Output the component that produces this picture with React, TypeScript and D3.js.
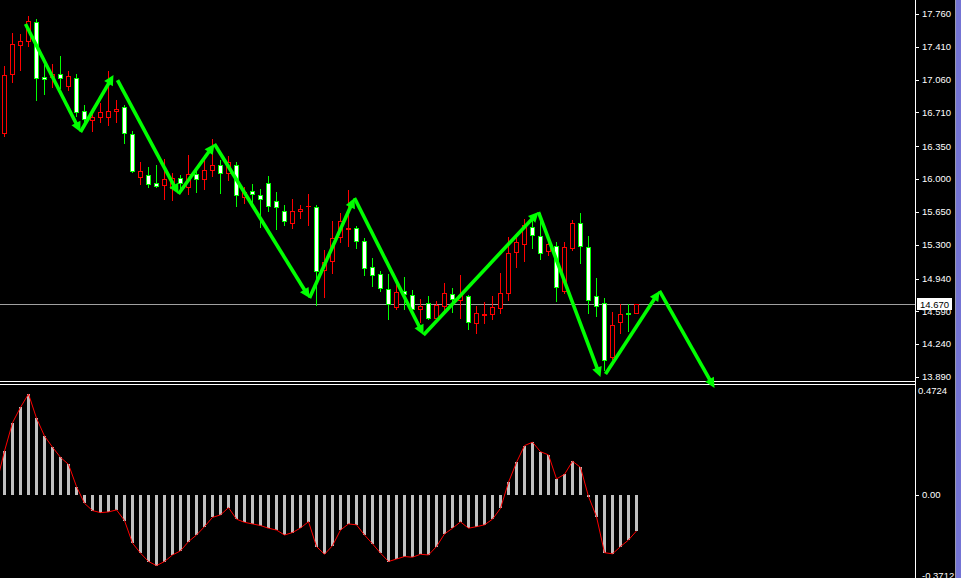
import React from 'react';
import * as d3 from 'd3';

const W = 961;
const H = 578;

// Candles (bar index 0..79)
const opens = [16.495, 17.117, 17.426, 17.475, 17.672, 17.085, 17.085, 17.117, 16.989, 17.074,
  16.723, 16.627, 16.659, 16.665, 16.723, 16.765, 16.477, 16.019, 16.040, 15.958,
  15.932, 15.905, 16.008, 15.912, 16.051, 15.998, 16.092, 16.147, 16.070, 16.147,
  15.814, 15.870, 15.827, 15.955, 15.763, 15.665, 15.537, 15.657, 15.710, 15.699,
  15.036, 15.130, 15.386, 15.465, 15.475, 15.338, 15.068, 14.983, 14.825, 14.640,
  14.802, 14.759, 14.615, 14.682, 14.522, 14.647, 14.772, 14.711, 14.754, 14.463,
  14.548, 14.558, 14.622, 14.782, 15.226, 15.305, 15.492, 15.393, 15.236, 15.290,
  14.810, 15.262, 15.529, 15.273, 14.750, 14.676, 14.106, 14.480, 14.569, 14.576];
const highs = [17.206, 17.554, 17.547, 17.739, 17.703, 17.270, 17.227, 17.312, 17.152, 17.120,
  16.790, 16.755, 16.808, 17.152, 16.843, 16.787, 16.509, 16.182, 16.126, 16.150,
  16.211, 16.065, 16.044, 16.257, 16.108, 16.257, 16.424, 16.203, 16.241, 16.185,
  15.919, 15.944, 15.891, 16.033, 15.862, 15.721, 15.784, 15.721, 15.841, 15.724,
  15.244, 15.553, 15.635, 15.884, 15.500, 15.369, 15.157, 15.025, 14.985, 14.914,
  14.956, 14.818, 14.722, 14.754, 14.700, 14.889, 14.842, 14.977, 14.764, 14.647,
  14.693, 14.754, 14.996, 15.379, 15.379, 15.574, 15.582, 15.635, 15.351, 15.326,
  15.326, 15.564, 15.635, 15.393, 14.942, 14.729, 14.586, 14.665, 14.665, 14.672];
const lows = [16.459, 17.038, 17.163, 17.422, 16.843, 16.907, 16.979, 16.968, 16.950, 16.673,
  16.577, 16.516, 16.612, 16.577, 16.612, 16.382, 16.079, 15.944, 15.912, 15.919,
  15.788, 15.777, 15.905, 15.836, 15.866, 15.894, 16.033, 15.855, 15.985, 15.716,
  15.745, 15.759, 15.492, 15.663, 15.463, 15.511, 15.482, 15.588, 15.511, 14.658,
  14.746, 15.002, 15.329, 15.287, 15.262, 14.977, 14.860, 14.807, 14.512, 14.613,
  14.615, 14.594, 14.476, 14.505, 14.503, 14.594, 14.586, 14.522, 14.402, 14.362,
  14.469, 14.508, 14.576, 14.711, 15.066, 15.127, 15.269, 15.148, 15.191, 14.700,
  14.786, 15.244, 15.109, 14.569, 14.540, 13.965, 14.079, 14.356, 14.380, 14.576];
const closes = [17.106, 17.437, 17.469, 17.682, 17.074, 17.064, 17.120, 17.074, 17.096, 16.712,
  16.644, 16.659, 16.712, 16.723, 16.747, 16.488, 16.089, 16.083, 15.944, 15.923,
  15.998, 16.012, 15.955, 16.051, 15.998, 16.094, 16.147, 16.070, 16.182, 15.827,
  15.866, 15.838, 15.785, 15.710, 15.699, 15.550, 15.657, 15.678, 15.718, 15.025,
  15.121, 15.377, 15.548, 15.475, 15.340, 15.057, 14.977, 14.836, 14.666, 14.793,
  14.775, 14.618, 14.647, 14.516, 14.658, 14.782, 14.718, 14.764, 14.473, 14.569,
  14.558, 14.633, 14.782, 15.209, 15.326, 15.511, 15.401, 15.209, 15.305, 14.846,
  15.273, 15.529, 15.283, 14.711, 14.647, 14.068, 14.441, 14.558, 14.558, 14.670];

const priceTicks = [17.76, 17.41, 17.06, 16.71, 16.35, 16.0, 15.65, 15.3, 14.94, 14.59, 14.24, 13.89];
const currentPrice = 14.67;

// ZigZag segments (bar index, price)
const zzFromIdx = [2.69, 9.56, 14.19, 21.81, 26.31, 38.19, 43.81, 52.44, 66.81, 75.19, 81.94];
const zzFromPrice = [17.653, 16.502, 17.056, 15.841, 16.374, 14.732, 15.798, 14.338, 15.649, 13.922, 14.807];
const zzToIdx = [9.56, 13.69, 21.81, 26.31, 38.19, 43.81, 52.44, 66.81, 74.56, 81.94, 88.81];
const zzToPrice = [16.502, 17.110, 15.841, 16.374, 14.732, 15.798, 14.338, 15.649, 13.890, 14.807, 13.773];

// Oscillator (bar index -1..79)
const oscStartIndex = -1;
const oscValues = [0.051,
  0.194, 0.319, 0.387, 0.446, 0.339, 0.260, 0.211, 0.166, 0.135, 0.037,
  -0.037, -0.069, -0.078, -0.075, -0.066, -0.113, -0.213, -0.257, -0.294, -0.312,
  -0.294, -0.265, -0.247, -0.206, -0.177, -0.140, -0.099, -0.088, -0.056, -0.107,
  -0.121, -0.128, -0.135, -0.147, -0.155, -0.177, -0.166, -0.146, -0.118, -0.228,
  -0.262, -0.224, -0.155, -0.128, -0.132, -0.177, -0.216, -0.257, -0.294, -0.283,
  -0.272, -0.275, -0.262, -0.265, -0.228, -0.172, -0.147, -0.119, -0.147, -0.140,
  -0.132, -0.107, -0.059, 0.056, 0.144, 0.218, 0.233, 0.191, 0.177, 0.071,
  0.091, 0.149, 0.122, -0.007, -0.096, -0.255, -0.260, -0.228, -0.199, -0.159];
const oscTicks = [0.4724, 0, -0.3712];
const oscTickLabels = ['0.4724', '0.00', '-0.3712'];

const FONT = '"Liberation Sans", Arial, sans-serif';

export default function App() {
  const x = d3.scaleLinear().domain([0, 79]).range([4, 636]);
  const y = d3.scaleLinear().domain([13.89, 17.76]).range([377, 14]);
  const yo = d3.scaleLinear().domain([-0.3712, 0.4724]).range([579, 388]);
  const axisX = 915;

  const candles = opens.map((o, i) => {
    const c = closes[i];
    const cx = Math.round(x(i));
    const bull = c >= o;
    const stroke = bull ? '#ff0000' : '#00ff00';
    const fill = bull ? '#000000' : '#ffffff';
    const yt = Math.round(y(Math.max(o, c)));
    const yb = Math.round(y(Math.min(o, c)));
    const yh = Math.round(y(highs[i]));
    const yl = Math.round(y(lows[i]));
    return (
      <g key={i}>
        <line x1={cx + 0.5} x2={cx + 0.5} y1={yh} y2={yl + 1} stroke={stroke} strokeWidth={1} />
        {yb - yt >= 1 ? (
          <rect x={cx - 2 + 0.5} y={yt + 0.5} width={4} height={yb - yt} fill={fill} stroke={stroke} strokeWidth={1} />
        ) : (
          <line x1={cx - 2} x2={cx + 3} y1={yt + 0.5} y2={yt + 0.5} stroke={stroke} strokeWidth={1} />
        )}
      </g>
    );
  });

  const zero = yo(0);
  const bars = oscValues.map((v, k) => {
    const i = k + oscStartIndex;
    const cx = Math.round(x(i));
    const yv = yo(v);
    const top = Math.min(yv, zero);
    const h = Math.abs(yv - zero);
    return <rect key={k} x={cx - 1} y={top} width={3} height={h} fill="#c0c0c0" />;
  });

  const oscLine = d3.line<number>()
    .x((_, k) => x(k + oscStartIndex) + 0.5)
    .y((v) => yo(v))(oscValues) || '';

  const zz = zzFromIdx.map((fi, k) => {
    const x1 = x(fi), y1 = y(zzFromPrice[k]);
    const x2 = x(zzToIdx[k]), y2 = y(zzToPrice[k]);
    const dx = x2 - x1, dy = y2 - y1;
    const len = Math.hypot(dx, dy);
    const ux = dx / len, uy = dy / len;
    const L = 10, hw = 5;
    const bx = x2 - ux * L, by = y2 - uy * L;
    const nx = -uy, ny = ux;
    const pts = [[x2, y2], [bx + nx * hw, by + ny * hw], [bx - nx * hw, by - ny * hw]]
      .map((p) => p.join(',')).join(' ');
    return (
      <g key={k}>
        <line x1={x1} y1={y1} x2={x2 - ux * 5} y2={y2 - uy * 5} stroke="#00ff00" strokeWidth={3.6} />
        <polygon points={pts} fill="#00ff00" />
      </g>
    );
  });

  const cpY = Math.round(y(currentPrice)) + 0.5;

  return (
    <svg width={W} height={H} style={{ position: 'absolute', left: 0, top: 0, display: 'block' }}>
      <rect x={0} y={0} width={W} height={H} fill="#000000" />
      {/* current price line */}
      <line x1={0} x2={axisX} y1={cpY} y2={cpY} stroke="#a0a0a0" strokeWidth={1} />
      <g shapeRendering="crispEdges">{candles}</g>
      {/* panel separator */}
      <line x1={0} x2={axisX + 1} y1={381.5} y2={381.5} stroke="#ffffff" strokeWidth={1} shapeRendering="crispEdges" />
      <line x1={0} x2={axisX + 1} y1={384.5} y2={384.5} stroke="#ffffff" strokeWidth={1} shapeRendering="crispEdges" />
      {/* oscillator */}
      <g shapeRendering="crispEdges">{bars}</g>
      <path d={oscLine} fill="none" stroke="#ff0000" strokeWidth={1} />
      {/* zigzag */}
      <g>{zz}</g>
      {/* axis */}
      <line x1={axisX + 0.5} x2={axisX + 0.5} y1={0} y2={H} stroke="#ffffff" strokeWidth={1} shapeRendering="crispEdges" />
      {priceTicks.map((t) => (
        <g key={t}>
          <line x1={axisX + 1} x2={axisX + 4} y1={Math.round(y(t)) + 0.5} y2={Math.round(y(t)) + 0.5} stroke="#ffffff" shapeRendering="crispEdges" />
          <text x={922} y={y(t)} dy="0.35em" fill="#ffffff" fontFamily={FONT} fontSize={9.5}>{t.toFixed(3)}</text>
        </g>
      ))}
      <rect x={917} y={cpY - 6.5} width={35} height={12} fill="#ffffff" />
      <text x={920} y={cpY} dy="0.35em" fill="#000000" fontFamily={FONT} fontSize={9.5}>{currentPrice.toFixed(3)}</text>
      {oscTicks.map((t, k) => {
        const ty = k === 0 ? 391 : k === 2 ? 576 : yo(t);
        return (
          <g key={k}>
            {k > 0 && <line x1={axisX + 1} x2={axisX + 4} y1={Math.round(yo(t)) + 0.5} y2={Math.round(yo(t)) + 0.5} stroke="#ffffff" shapeRendering="crispEdges" />}
            <text x={k === 0 ? 918 : 922} y={ty} dy="0.35em" fill="#ffffff" fontFamily={FONT} fontSize={9.5}>{oscTickLabels[k]}</text>
          </g>
        );
      })}
      <rect x={956} y={0} width={5} height={H} fill="#7474d4" />
      <line x1={955.5} x2={955.5} y1={0} y2={H} stroke="#9a9ab0" strokeWidth={1} />
    </svg>
  );
}
